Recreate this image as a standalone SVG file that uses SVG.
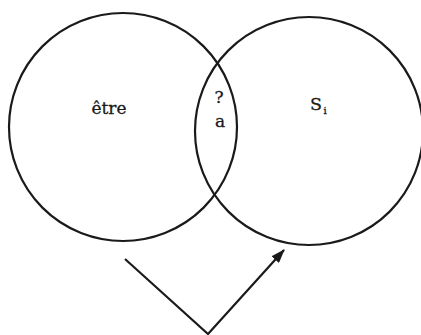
<svg xmlns="http://www.w3.org/2000/svg" width="421" height="335" viewBox="0 0 421 335">
<style>
.c{fill:none;stroke:#1a1a1a;stroke-width:2.2}
.t{font-family:"DejaVu Serif","Liberation Serif",serif;fill:#1a1a1a;stroke:#1a1a1a;stroke-width:0.3;text-anchor:middle}
</style>
<defs>
<marker id="ah" viewBox="0 0 14 10" refX="13" refY="5" markerWidth="14" markerHeight="10" markerUnits="userSpaceOnUse" orient="auto">
<path d="M0,0 L14,5 L0,10 z" fill="#1a1a1a"/>
</marker>
</defs>
<rect width="421" height="335" fill="#fff"/>
<g id="etre">
<circle class="c" cx="123" cy="127" r="114"/>
<text class="t" x="109" y="114" font-size="17">être</text>
</g>
<g id="si">
<circle class="c" cx="309" cy="131" r="114"/>
<text class="t" y="110" font-size="17.5"><tspan x="316">S</tspan><tspan font-size="10" x="325" dy="4">i</tspan></text>
</g>
<g id="inter">
<text class="t" x="219" y="103" font-size="17">?</text>
<text class="t" x="220" y="127" font-size="17">a</text>
</g>
<g id="connectors">
<path d="M125,259 L208,334 L284,250" fill="none" stroke="#1a1a1a" stroke-width="2.2" marker-end="url(#ah)"/>
</g>
</svg>
